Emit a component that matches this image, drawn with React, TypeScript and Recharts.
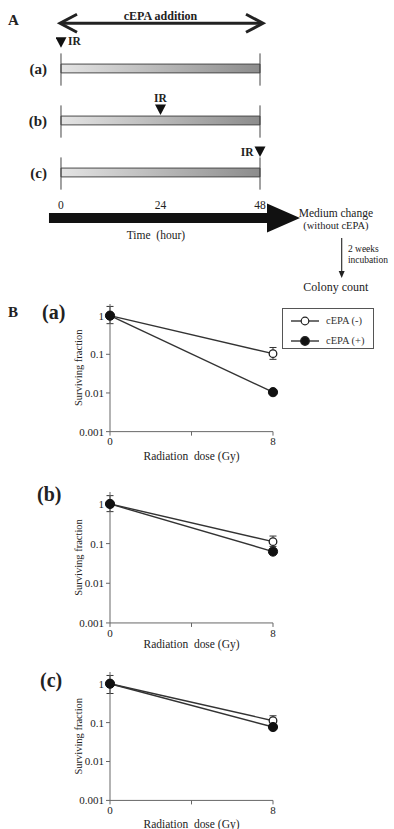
import React from 'react';
import {
  ComposedChart,
  Line,
  ErrorBar,
  XAxis,
  YAxis,
  ReferenceArea,
  ReferenceLine,
  ReferenceDot,
  Scatter,
  Label,
  Legend,
} from 'recharts';

// ---------------- Panel A (protocol scheme) data ----------------
const protocols = ['(a)', '(b)', '(c)'];
const irTimes = [0, 24, 48]; // hour of irradiation in each protocol
const cepaStart = 0;
const cepaEnd = 48;
const timeTicks = [0, 24, 48];
const timeAxisTitle = 'Time\u00a0 (hour)';
const additionLabel = 'cEPA addition';
const irLabel = 'IR';
const mediumChange = ['Medium change', '(without cEPA)'];
const incubationNote = ['2 weeks', 'incubation'];
const endpointLabel = 'Colony count';

// ---------------- Panel B (survival) data ----------------
const seriesNames = ['cEPA (-)', 'cEPA (+)'];
const panelLabels = ['(a)', '(b)', '(c)'];
const doses = [0, 8];
const doseTicks = [0, 4, 8];
const survivalTicks = [0.001, 0.01, 0.1, 1];

const minusA = [1, 0.104];
const minusLowA = [0.62, 0.074];
const minusHighA = [1.73, 0.15];
const plusA = [1, 0.0105];
const plusLowA = [0.85, 0.0095];
const plusHighA = [1.15, 0.0115];

const minusB = [1, 0.112];
const minusLowB = [0.64, 0.085];
const minusHighB = [1.62, 0.155];
const plusB = [1, 0.063];
const plusLowB = [0.85, 0.055];
const plusHighB = [1.15, 0.072];

const minusC = [1, 0.112];
const minusLowC = [0.56, 0.088];
const minusHighC = [1.63, 0.15];
const plusC = [1, 0.077];
const plusLowC = [0.85, 0.068];
const plusHighC = [1.15, 0.087];

// ---------------- styling / layout ----------------
const SERIF = '"Liberation Serif", "DejaVu Serif", serif';
const INK = '#222';
const AXIS = '#666';

// Panel A layout (row units: protocol rows at 1,2,3)
const A_TIME_DOMAIN: [number, number] = [-1.206, 80.32];
const A_ROW_DOMAIN: [number, number] = [-0.317, 5.356];
const ROW_ADD_ARROW = 0.131;
const ROW_TICK_LABELS = 3.63;
const ROW_TIME_ARROW = 3.875;
const ROW_TIME_TITLE = 4.2;
const ROW_MEDIUM = [3.78, 4.01];
const ROW_DOWN_ARROW = [4.26, 5.03];
const ROW_INCUB = [4.47, 4.68];
const ROW_COLONY = 5.2;
const T_TIME_ARROW = [-2.9, 57.65];
const T_TIME_TITLE = 22.9;
const T_RIGHT_TEXT = 66.3;
const T_DOWN_ARROW = 67.7;
const T_INCUB_TEXT = 69.2;
const BAR_HALF = 0.085;
const GUIDE_TOP = 0.29;
const GUIDE_BOTTOM = 0.33;
const IR_TIP_OFFSET = [-0.4, -0.106, -0.298];
const IR_LABEL_SIDE: Record<string, string> = { '(a)': 'right', '(b)': 'top', '(c)': 'left' };

const doubleArrowShape = (p: any) => {
  const { x1, y1, x2 } = p;
  const y = y1;
  const l = x1 - 1;
  const r = x2 + 3;
  const a = 17;
  const h = 9;
  return (
    <g>
      <line x1={l + 1} y1={y} x2={r - 1} y2={y} stroke={INK} strokeWidth={3} />
      <polyline points={`${l + a},${y - h} ${l},${y} ${l + a},${y + h}`} fill="none" stroke={INK} strokeWidth={3} />
      <polyline points={`${r - a},${y - h} ${r},${y} ${r - a},${y + h}`} fill="none" stroke={INK} strokeWidth={3} />
      <text x={(x1 + x2) / 2} y={y - 3.5} textAnchor="middle" fontFamily={SERIF} fontWeight="bold" fontSize={12} fill={INK}>
        {additionLabel}
      </text>
    </g>
  );
};

const timeArrowShape = (p: any) => {
  const { x1, y1, x2 } = p;
  const half = 5;
  const headHalf = 14.5;
  const bx = x2 - 33;
  return (
    <polygon
      points={`${x1},${y1 - half} ${bx},${y1 - half} ${bx},${y1 - headHalf} ${x2},${y1} ${bx},${y1 + headHalf} ${bx},${y1 + half} ${x1},${y1 + half}`}
      fill="#111"
    />
  );
};

const downArrowShape = (p: any) => {
  const { x1, y1, y2 } = p;
  return (
    <g>
      <line x1={x1} y1={y1} x2={x1} y2={y2 - 6} stroke="#333" strokeWidth={1.2} />
      <polygon points={`${x1 - 3},${y2 - 7} ${x1 + 3},${y2 - 7} ${x1},${y2}`} fill="#222" />
    </g>
  );
};

const irShape = (p: any) => {
  const { cx, cy, payload } = p;
  const w = 5.5;
  const h = 10.5;
  const side = IR_LABEL_SIDE[payload.protocol];
  let tx = cx + 7;
  let ty = cy - 2.3;
  let anchor: any = 'start';
  if (side === 'top') {
    tx = cx;
    ty = cy - 12.5;
    anchor = 'middle';
  } else if (side === 'left') {
    tx = cx - 6.5;
    ty = cy - 0.5;
    anchor = 'end';
  }
  return (
    <g>
      <polygon points={`${cx - w},${cy - h} ${cx + w},${cy - h} ${cx},${cy}`} fill="#111" />
      <text x={tx} y={ty} textAnchor={anchor} fontFamily={SERIF} fontWeight="bold" fontSize={11.5} fill={INK}>
        {irLabel}
      </text>
    </g>
  );
};

const tickTextShape = (p: any) => (
  <text x={p.cx} y={p.cy} dy="0.35em" textAnchor="middle" fontFamily={SERIF} fontSize={11.5} fill={INK}>
    {String(p.payload.t)}
  </text>
);

const textShape = (value: string, size: number, anchor: any) => (p: any) => (
  <text x={p.cx} y={p.cy} dy="0.35em" textAnchor={anchor} fontFamily={SERIF} fontSize={size} fill={INK}>
    {value}
  </text>
);

function ProtocolPanel() {
  const irPoints = irTimes.map((t, i) => ({ t, row: i + 1 + IR_TIP_OFFSET[i], protocol: protocols[i] }));
  const tickPoints = timeTicks.map((t) => ({ t, row: ROW_TICK_LABELS }));
  return (
    <div style={{ position: 'absolute', left: 0, top: 0 }}>
      <ComposedChart width={394} height={295} margin={{ top: 0, right: 0, bottom: 0, left: 0 }}>
        <defs>
          <linearGradient id="cepaBar" x1="0" y1="0" x2="1" y2="0">
            <stop offset="0%" stopColor="#e4e4e4" />
            <stop offset="100%" stopColor="#8c8c8c" />
          </linearGradient>
        </defs>
        <XAxis dataKey="t" type="number" domain={A_TIME_DOMAIN} allowDataOverflow hide />
        <YAxis
          dataKey="row"
          type="number"
          domain={A_ROW_DOMAIN}
          allowDataOverflow
          reversed
          ticks={[1, 2, 3]}
          tickFormatter={(v: number) => protocols[v - 1] ?? ''}
          width={56}
          axisLine={false}
          tickLine={false}
          tickSize={0}
          tickMargin={9}
          tick={{ fontSize: 15, fontWeight: 'bold', fontFamily: SERIF, fill: INK }}
        />
        <ReferenceLine
          segment={[{ x: cepaStart, y: ROW_ADD_ARROW }, { x: cepaEnd, y: ROW_ADD_ARROW }]}
          ifOverflow="visible"
          shape={doubleArrowShape}
        />
        {protocols.map((p, i) => (
          <ReferenceLine
            key={`gl${p}`}
            segment={[{ x: cepaStart, y: i + 1 - GUIDE_TOP }, { x: cepaStart, y: i + 1 + GUIDE_BOTTOM }]}
            stroke="#444"
            strokeWidth={1}
            ifOverflow="visible"
          />
        ))}
        {protocols.map((p, i) => (
          <ReferenceLine
            key={`gr${p}`}
            segment={[{ x: cepaEnd, y: i + 1 - GUIDE_TOP }, { x: cepaEnd, y: i + 1 + GUIDE_BOTTOM }]}
            stroke="#444"
            strokeWidth={1}
            ifOverflow="visible"
          />
        ))}
        {protocols.map((p, i) => (
          <ReferenceArea
            key={`bar${p}`}
            x1={cepaStart}
            x2={cepaEnd}
            y1={i + 1 - BAR_HALF}
            y2={i + 1 + BAR_HALF}
            fill="url(#cepaBar)"
            fillOpacity={1}
            stroke="#4a4a4a"
            strokeWidth={1}
            ifOverflow="visible"
          />
        ))}
        <Scatter data={irPoints} shape={irShape} isAnimationActive={false} />
        <Scatter data={tickPoints} shape={tickTextShape} isAnimationActive={false} />
        <ReferenceLine
          segment={[{ x: T_TIME_ARROW[0], y: ROW_TIME_ARROW }, { x: T_TIME_ARROW[1], y: ROW_TIME_ARROW }]}
          ifOverflow="visible"
          shape={timeArrowShape}
        />
        <ReferenceDot x={T_TIME_TITLE} y={ROW_TIME_TITLE} r={0} shape={textShape(timeAxisTitle, 11.5, 'middle')} />
        <ReferenceDot x={T_RIGHT_TEXT} y={ROW_MEDIUM[0]} r={0} shape={textShape(mediumChange[0], 11.5, 'middle')} />
        <ReferenceDot x={T_RIGHT_TEXT} y={ROW_MEDIUM[1]} r={0} shape={textShape(mediumChange[1], 10.5, 'middle')} />
        <ReferenceLine
          segment={[{ x: T_DOWN_ARROW, y: ROW_DOWN_ARROW[0] }, { x: T_DOWN_ARROW, y: ROW_DOWN_ARROW[1] }]}
          ifOverflow="visible"
          shape={downArrowShape}
        />
        <ReferenceDot x={T_INCUB_TEXT} y={ROW_INCUB[0]} r={0} shape={textShape(incubationNote[0], 9.5, 'start')} />
        <ReferenceDot x={T_INCUB_TEXT} y={ROW_INCUB[1]} r={0} shape={textShape(incubationNote[1], 9.5, 'start')} />
        <ReferenceDot x={T_RIGHT_TEXT} y={ROW_COLONY} r={0} shape={textShape(endpointLabel, 12, 'middle')} />
      </ComposedChart>
    </div>
  );
}

function buildRows(mi: number[], miLo: number[], miHi: number[], pl: number[], plLo: number[], plHi: number[]) {
  return doses.map((d, i) => ({
    dose: d,
    minus: mi[i],
    minusErr: [mi[i] - miLo[i], miHi[i] - mi[i]],
    plus: pl[i],
    plusErr: [pl[i] - plLo[i], plHi[i] - pl[i]],
  }));
}

const renderLegend = (props: any) => {
  const payload = [...(props.payload || [])].sort(
    (a: any, b: any) => seriesNames.indexOf(a.value) - seriesNames.indexOf(b.value)
  );
  return (
    <div
      style={{
        width: 92,
        height: 41,
        boxSizing: 'border-box',
        border: '1px solid #555',
        background: '#fff',
        paddingTop: 2,
        paddingLeft: 7,
        fontFamily: SERIF,
        fontSize: 10.5,
        color: '#333',
      }}
    >
      {payload.map((entry: any) => {
        const open = seriesNames.indexOf(entry.value) === 0;
        return (
          <div key={entry.value} style={{ display: 'flex', alignItems: 'center', height: 20 }}>
            <svg width={30} height={12}>
              <line x1={1} y1={6} x2={29} y2={6} stroke="#333" strokeWidth={1.4} />
              <circle cx={15} cy={6} r={open ? 3.8 : 4.3} fill={open ? '#fff' : '#111'} stroke="#222" strokeWidth={1.2} />
            </svg>
            <span style={{ marginLeft: 6, whiteSpace: 'nowrap' }}>{entry.value}</span>
          </div>
        );
      })}
    </div>
  );
};

function SurvivalPanel({ rows, yOne, yMin, xAxisHeight, legend }: any) {
  const decade = (yMin - yOne) / 3;
  const plotTop = yOne - Math.log10(2) * decade;
  const marginTop = 14;
  const pad = 4;
  const chartTop = plotTop - marginTop;
  const height = marginTop + (yMin - plotTop) + xAxisHeight + pad;
  return (
    <div style={{ position: 'absolute', left: 0, top: chartTop }}>
      <ComposedChart width={394} height={height} data={rows} margin={{ top: marginTop, right: 121, bottom: 0, left: 46 }}>
        <XAxis
          dataKey="dose"
          type="number"
          domain={[0, 8]}
          ticks={doseTicks}
          tickFormatter={(v: number) => (v === 4 ? '' : String(v))}
          height={xAxisHeight + pad}
          tickSize={4}
          tickMargin={2}
          axisLine={{ stroke: AXIS }}
          tickLine={{ stroke: AXIS }}
          tick={{ fontSize: 11, fontFamily: SERIF, fill: INK }}
        >
          <Label value={'Radiation\u00a0 dose (Gy)'} position="insideBottom" offset={pad} style={{ fontSize: 11.5, fontFamily: SERIF, fill: INK }} />
        </XAxis>
        <YAxis
          type="number"
          scale="log"
          domain={[0.001, 2]}
          ticks={survivalTicks}
          tickFormatter={(v: number) => String(v)}
          width={64}
          tickSize={4}
          tickMargin={2}
          axisLine={{ stroke: AXIS }}
          tickLine={{ stroke: AXIS }}
          tick={{ fontSize: 11, fontFamily: SERIF, fill: INK }}
        >
          <Label value="Surviving fraction" angle={-90} position="center" style={{ fontSize: 10.5, fontFamily: SERIF, fill: INK }} />
        </YAxis>
        <Line
          type="linear"
          dataKey="minus"
          name={seriesNames[0]}
          stroke="#333"
          strokeWidth={1.4}
          dot={{ r: 3.8, fill: '#fff', stroke: '#222', strokeWidth: 1.3 }}
          activeDot={false}
          isAnimationActive={false}
        >
          <ErrorBar dataKey="minusErr" width={3.5} stroke="#333" strokeWidth={1} direction="y" />
        </Line>
        <Line
          type="linear"
          dataKey="plus"
          name={seriesNames[1]}
          stroke="#333"
          strokeWidth={1.4}
          dot={{ r: 4.6, fill: '#111', stroke: '#111', strokeWidth: 1 }}
          activeDot={false}
          isAnimationActive={false}
        >
          <ErrorBar dataKey="plusErr" width={3.5} stroke="#333" strokeWidth={1} direction="y" />
        </Line>
        {legend ? (
          <Legend
            layout="horizontal"
            verticalAlign="middle"
            align="center"
            content={renderLegend}
            wrapperStyle={{ left: 282, top: 308 - chartTop, right: 'auto', bottom: 'auto', width: 92, height: 41 }}
          />
        ) : null}
      </ComposedChart>
    </div>
  );
}

const Tag = ({ x, y, size, children }: any) => (
  <div
    style={{
      position: 'absolute',
      left: x,
      top: y,
      fontSize: size,
      fontWeight: 'bold',
      lineHeight: 1,
      transform: 'translateY(-50%)',
      color: INK,
      fontFamily: SERIF,
      whiteSpace: 'nowrap',
    }}
  >
    {children}
  </div>
);

export default function App() {
  const rowsA = buildRows(minusA, minusLowA, minusHighA, plusA, plusLowA, plusHighA);
  const rowsB = buildRows(minusB, minusLowB, minusHighB, plusB, plusLowB, plusHighB);
  const rowsC = buildRows(minusC, minusLowC, minusHighC, plusC, plusLowC, plusHighC);
  return (
    <div style={{ position: 'absolute', left: 0, top: 0, width: 394, height: 829, background: '#fff', overflow: 'hidden' }}>
      <ProtocolPanel />
      <SurvivalPanel rows={rowsA} yOne={316} yMin={432} xAxisHeight={28.5} legend />
      <SurvivalPanel rows={rowsB} yOne={504} yMin={623} xAxisHeight={25.5} />
      <SurvivalPanel rows={rowsC} yOne={683.3} yMin={800} xAxisHeight={27.5} />
      <Tag x={8} y={20} size={15}>A</Tag>
      <Tag x={8} y={312} size={15}>B</Tag>
      <Tag x={42} y={312} size={20}>{panelLabels[0]}</Tag>
      <Tag x={37} y={494} size={20}>{panelLabels[1]}</Tag>
      <Tag x={40} y={680} size={20}>{panelLabels[2]}</Tag>
    </div>
  );
}
